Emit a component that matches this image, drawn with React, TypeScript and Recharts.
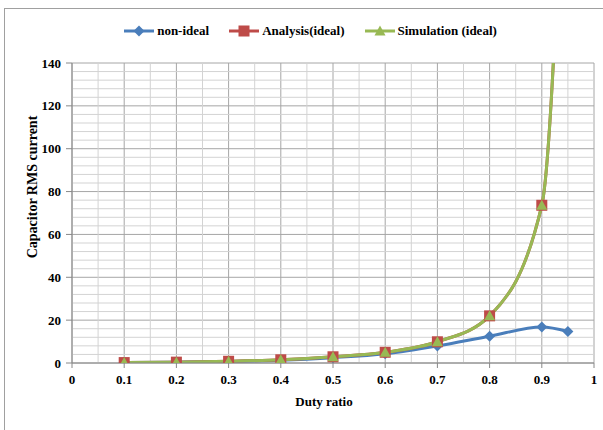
import React from "react";
import {
  LineChart,
  Line,
  XAxis,
  YAxis,
  CartesianGrid,
  ReferenceLine,
  Legend,
} from "recharts";

const duty = [0.1, 0.2, 0.3, 0.4, 0.5, 0.6, 0.7, 0.8, 0.9, 0.95];
const nonIdeal = [0.2, 0.4, 0.7, 1.3, 2.5, 4.3, 7.9, 12.5, 16.8, 14.7];
const analysis = [0.2, 0.4, 0.8, 1.5, 2.9, 5.0, 9.9, 22.0, 73.6, 300];
const simulation = [0.2, 0.4, 0.8, 1.5, 2.9, 5.0, 9.9, 22.0, 73.6, 300];

const xTicks = [0, 0.1, 0.2, 0.3, 0.4, 0.5, 0.6, 0.7, 0.8, 0.9, 1];
const yTicks = [0, 20, 40, 60, 80, 100, 120, 140];
const xMinor = [0.05, 0.15, 0.25, 0.35, 0.45, 0.55, 0.65, 0.75, 0.85, 0.95];
const yMinor = [
  4, 8, 12, 16, 24, 28, 32, 36, 44, 48, 52, 56, 64, 68, 72, 76, 84, 88, 92, 96,
  104, 108, 112, 116, 124, 128, 132, 136,
];

const data = duty.map((d, i) => ({
  duty: d,
  nonIdeal: nonIdeal[i],
  analysis: analysis[i],
  simulation: simulation[i],
}));

const BLUE = "#4a7ebb";
const RED = "#be4b48";
const GREEN = "#98b954";
const FONT = "'Liberation Serif', 'Times New Roman', serif";
const YMAX = 140;

const tickStyle = { fill: "#000", fontFamily: FONT, fontWeight: 700, fontSize: 13 };

function diamond(cx: number, cy: number, color: string, key?: any) {
  const r = 5.5;
  return (
    <polygon
      key={key}
      points={`${cx},${cy - r} ${cx + r},${cy} ${cx},${cy + r} ${cx - r},${cy}`}
      fill={color}
    />
  );
}
function square(cx: number, cy: number, color: string, key?: any) {
  const r = 5.5;
  return <rect key={key} x={cx - r} y={cy - r} width={2 * r} height={2 * r} fill={color} />;
}
function triangle(cx: number, cy: number, color: string, key?: any) {
  const r = 5.5;
  return (
    <polygon
      key={key}
      points={`${cx},${cy - r} ${cx + r},${cy + r - 1} ${cx - r},${cy + r - 1}`}
      fill={color}
    />
  );
}

// markers are only drawn inside the plot range
const makeDot = (shape: typeof diamond, color: string) => (p: any) => {
  const key = `${color}-${p.index}`;
  if (p.value == null || p.value > YMAX || p.cx == null || p.cy == null)
    return <g key={key} />;
  return shape(p.cx, p.cy, color, key);
};

const legendItems = [
  { name: "non-ideal", color: BLUE, shape: diamond },
  { name: "Analysis(ideal)", color: RED, shape: square },
  { name: "Simulation (ideal)", color: GREEN, shape: triangle },
];

function LegendContent() {
  return (
    <div style={{ display: "flex", justifyContent: "center", gap: 20, paddingLeft: 18 }}>
      {legendItems.map((it) => (
        <div key={it.name} style={{ display: "flex", alignItems: "center" }}>
          <svg width={30} height={14} style={{ marginRight: 3 }}>
            <line x1={0} y1={7} x2={30} y2={7} stroke={it.color} strokeWidth={3} />
            {it.shape(15, 7, it.color)}
          </svg>
          <span style={{ fontFamily: FONT, fontWeight: 700, fontSize: 13, color: "#000" }}>
            {it.name}
          </span>
        </div>
      ))}
    </div>
  );
}

export default function App() {
  return (
    <div
      style={{
        position: "absolute",
        left: 0,
        top: 0,
        width: 603,
        height: 430,
        background: "#fff",
        overflow: "hidden",
      }}
    >
      <div
        style={{
          position: "absolute",
          left: 4,
          top: 8,
          width: 620,
          height: 440,
          borderLeft: "1px solid #a0a0a0",
          borderTop: "1px solid #a0a0a0",
        }}
      />
      <LineChart
        width={603}
        height={430}
        data={data}
        margin={{ top: 63, right: 9, left: 32, bottom: 37 }}
      >
        <CartesianGrid stroke="#a6a6a6" strokeWidth={1} />
        {xMinor.map((v) => (
          <ReferenceLine key={`vx${v}`} x={v} stroke="#d3d3d3" strokeWidth={1} />
        ))}
        {yMinor.map((v) => (
          <ReferenceLine key={`hy${v}`} y={v} stroke="#d3d3d3" strokeWidth={1} />
        ))}
        <XAxis
          dataKey="duty"
          type="number"
          domain={[0, 1]}
          ticks={xTicks}
          tick={tickStyle}
          tickSize={5}
          tickMargin={7}
          stroke="#888"
          height={30}
          label={{
            value: "Duty ratio",
            position: "bottom",
            offset: 4,
            dx: -9,
            style: { fill: "#000", fontFamily: FONT, fontWeight: 700, fontSize: 13 },
          }}
        />
        <YAxis
          type="number"
          domain={[0, YMAX]}
          ticks={yTicks}
          allowDataOverflow
          tick={tickStyle}
          tickSize={6}
          tickMargin={5}
          stroke="#888"
          width={40}
          label={{
            content: (props: any) => {
              const vb = props.viewBox || { x: 32, y: 63, height: 300 };
              const cx = vb.x;
              const cy = vb.y + vb.height / 2 - 26;
              return (
                <text
                  x={cx}
                  y={cy}
                  transform={`rotate(-90 ${cx} ${cy})`}
                  textAnchor="middle"
                  dominantBaseline="central"
                  style={{ fill: "#000", fontFamily: FONT, fontWeight: 700, fontSize: 14 }}
                >
                  Capacitor RMS current
                </text>
              );
            },
          }}
        />
        <Legend
          verticalAlign="middle"
          layout="horizontal"
          content={<LegendContent />}
          wrapperStyle={{ top: 23, left: 0, width: 603, height: 16 }}
        />
        <Line
          dataKey="nonIdeal"
          name="non-ideal"
          type="monotone"
          stroke={BLUE}
          strokeWidth={3}
          dot={makeDot(diamond, BLUE)}
          activeDot={false}
          isAnimationActive={false}
        />
        <Line
          dataKey="analysis"
          name="Analysis(ideal)"
          type="monotone"
          stroke={RED}
          strokeWidth={3}
          dot={makeDot(square, RED)}
          activeDot={false}
          isAnimationActive={false}
        />
        <Line
          dataKey="simulation"
          name="Simulation (ideal)"
          type="monotone"
          stroke={GREEN}
          strokeWidth={3}
          dot={makeDot(triangle, GREEN)}
          activeDot={false}
          isAnimationActive={false}
        />
      </LineChart>
    </div>
  );
}
